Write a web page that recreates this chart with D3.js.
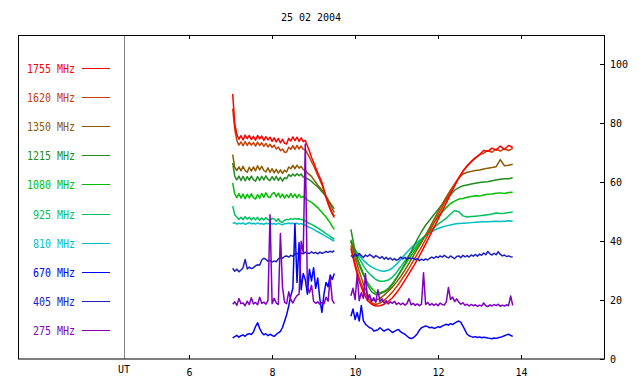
<!DOCTYPE html>
<html><head><meta charset="utf-8">
<script src="https://cdn.jsdelivr.net/npm/d3@7"></script>
<style>body{margin:0;background:#fff}svg{display:block}text{font-family:"DejaVu Sans Mono",monospace}</style>
</head><body><svg id="c" width="640" height="384"></svg>
<script>
const title = "25 02 2004";
const xTicks = [6, 8, 10, 12, 14];
const yTicks = [0, 20, 40, 60, 80, 100];
const names = ["1755 MHz","1620 MHz","1350 MHz","1215 MHz","1080 MHz","925 MHz","810 MHz","670 MHz","405 MHz","275 MHz"];
const colors = ["#ff0000","#c84000","#8c5a00","#228b22","#00c000","#00c060","#00c0c0","#0000ff","#2020c0","#8000c0"];

const T1 = [7.05,7.10,7.15,7.20,7.25,7.30,7.35,7.40,7.45,7.50,
7.55,7.60,7.65,7.70,7.75,7.80,7.85,7.90,7.95,8.00,
8.05,8.10,8.15,8.20,8.25,8.30,8.35,8.40,8.45,8.50,
8.55,8.60,8.65,8.70,8.75,8.80,8.85,8.90,8.95,9.00,
9.05,9.10,9.15,9.20,9.25,9.30,9.35,9.40,9.45,9.50];
const T2 = [9.9,10.0,10.1,10.2,10.3,10.4,10.5,10.6,10.7,10.8,
10.9,11.0,11.1,11.2,11.3,11.4,11.5,11.6,11.7,11.8,
11.9,12.0,12.1,12.2,12.3,12.4,12.5,12.6,12.7,12.8,
12.9,13.0,13.1,13.2,13.3,13.4,13.5,13.6,13.7,13.8];
const T2f = [9.90,9.95,10.00,10.05,10.10,10.15,10.20,10.25,10.30,10.35,
10.40,10.45,10.50,10.55,10.60,10.65,10.70,10.75,10.80,10.85,
10.90,10.95,11.00,11.05,11.10,11.15,11.20,11.25,11.30,11.35,
11.40,11.45,11.50,11.55,11.60,11.65,11.70,11.75,11.80,11.85,
11.90,11.95,12.00,12.05,12.10,12.15,12.20,12.25,12.30,12.35,
12.40,12.45,12.50,12.55,12.60,12.65,12.70,12.75,12.80,12.85,
12.90,12.95,13.00,13.05,13.10,13.15,13.20,13.25,13.30,13.35,
13.40,13.45,13.50,13.55,13.60,13.65,13.70,13.75,13.80];

const v1755a = [90,80,76.2,74.6,75.8,74.4,76.0,74.8,75.9,74.5,
75.6,74.3,75.9,74.7,75.7,74.2,75.5,74.4,75.3,73.9,
75.1,73.7,74.9,73.4,74.6,73.2,73.0,74.9,74.0,75.4,
74.1,75.3,73.9,75.1,73.8,74.2,72.4,70.6,68.4,66.8,
65.0,63.2,61.6,60.0,57.6,55.2,53.0,51.2,49.6,48.4];
const v1755b = [37.5,31.5,26.3,22.5,19.8,18.6,18.0,18.1,18.6,19.5,
20.8,22.5,24.5,26.7,29.0,31.3,33.7,36.3,39.0,41.8,
44.6,47.4,50.2,53.0,55.9,58.8,61.5,63.8,65.6,67.0,
68.3,69.4,70.8,70.5,71.6,70.9,72.3,71.2,72.5,71.8];
const v1620a = [85,78,74.2,72.6,73.7,72.4,73.8,72.5,73.6,72.6,
73.5,72.3,73.6,72.5,73.4,72.2,73.2,72.0,72.9,71.8,
72.6,71.3,72.0,70.7,71.3,70.2,70.3,71.9,71.2,72.4,
71.2,72.5,71.3,72.3,71.2,71.0,69.8,68.4,67.0,65.6,
64.0,62.4,60.8,59.2,57.0,54.8,52.6,50.8,49.2,48.0];
const v1620b = [38.5,32.5,27.5,23.5,20.8,19.1,18.5,19.0,19.9,21.2,
22.7,24.5,26.5,28.6,30.8,33.2,35.6,38.0,40.6,43.3,
46.2,48.9,51.5,54.2,56.8,59.2,61.6,63.7,65.4,67.0,
68.3,69.3,69.9,70.8,70.2,71.3,70.6,71.4,70.8,71.5];
const v1350a = [69.4,65.0,64.0,65.2,63.9,65.4,64.0,63.4,65.1,63.8,
65.2,63.9,65.6,64.2,65.4,64.0,63.5,64.9,63.4,64.6,
63.2,64.4,63.1,64.2,63.0,64.1,63.5,65.2,64.6,65.7,
64.6,65.8,64.8,65.4,64.3,64.0,63.2,62.6,62.0,61.0,
60.0,59.0,58.2,57.4,56.4,55.2,54.0,52.6,51.0,49.8];
const v1350b = [40.0,34.5,29.8,25.5,22.0,20.0,19.9,20.6,21.7,23.0,
24.4,26.1,28.0,30.2,32.5,34.9,37.3,39.6,42.1,44.7,
47.3,50.0,52.6,55.0,57.3,59.4,61.4,62.8,63.4,63.7,
64.0,64.2,64.5,64.8,65.0,65.3,67.7,65.6,65.8,66.1];
const v1215a = [66.6,62.0,60.8,62.1,60.6,62.0,60.5,61.9,60.7,62.1,
60.9,60.4,61.9,60.6,62.0,60.8,62.2,61.0,60.6,61.9,
60.7,62.0,60.6,61.7,60.4,61.6,61.2,62.6,62.0,62.8,
62.1,62.9,62.2,62.8,61.8,61.6,61.2,60.8,60.3,59.6,
59.0,58.4,57.6,56.8,56.0,55.0,54.0,53.0,52.0,51.0];
const v1215b = [44.0,36.5,32.5,29.0,25.2,22.8,21.9,22.1,22.7,23.6,
25.3,27.4,29.8,32.3,35.0,37.8,40.6,43.2,45.4,47.2,
49.0,50.8,52.5,54.1,55.8,57.3,58.2,58.8,59.1,59.4,
59.7,59.9,60.1,60.2,60.5,60.8,61.0,61.2,61.2,61.5];
const v1080a = [59.8,56.0,54.8,56.2,54.6,56.0,54.4,55.9,54.7,56.1,
54.8,54.3,55.8,54.6,56.2,54.9,56.4,55.1,54.8,56.1,
56.5,55.1,56.3,54.8,56.0,54.6,55.8,54.8,56.2,54.9,
56.0,54.7,55.9,54.8,55.2,54.6,54.0,53.6,53.2,52.6,
52.0,51.4,50.6,49.8,49.0,48.2,47.2,46.2,45.0,44.0];
const v1080b = [40.5,35.5,31.8,28.5,26.0,24.0,22.6,22.5,23.0,24.0,
25.6,27.6,29.7,31.9,34.0,36.1,38.2,40.1,42.0,44.1,
46.2,48.2,49.9,51.4,52.8,53.6,54.3,54.5,54.9,55.2,
55.4,55.3,55.7,55.9,56.0,56.3,56.4,56.2,56.5,56.6];
const v925a = [51.9,49.0,48.2,47.4,48.1,47.3,48.3,47.5,48.1,47.2,
48.0,47.3,48.1,47.1,47.9,47.2,48.0,47.3,47.0,47.8,
47.5,46.8,47.6,46.6,46.4,47.1,47.4,47.3,47.6,47.4,
47.7,47.5,47.6,47.3,47.4,46.8,46.4,46.0,45.7,45.3,
44.9,44.5,44.0,43.6,43.1,42.6,42.1,41.6,41.1,40.6];
const v925b = [40.0,37.0,34.2,31.6,29.6,28.2,27.0,26.4,26.4,26.8,
27.8,29.4,31.3,33.3,35.2,37.0,38.9,40.6,42.1,43.4,
44.6,45.8,46.8,47.8,49.2,50.4,50.0,48.6,48.2,48.4,
48.5,48.6,48.8,49.0,49.2,49.6,49.4,49.5,49.7,49.8];
const v810a = [46.0,46.3,45.8,46.1,45.9,46.2,45.7,46.0,46.3,45.9,
46.1,45.8,46.2,45.9,46.0,45.7,46.1,45.9,46.2,45.8,
46.0,45.7,46.1,45.8,45.6,45.9,46.0,46.2,45.9,46.1,
45.9,46.1,45.8,46.0,45.7,45.4,45.0,44.7,44.4,44.0,
43.6,43.2,42.8,42.4,42.0,41.6,41.2,40.8,40.4,40.0];
const v810b = [39.5,37.2,35.2,33.5,32.2,31.2,30.5,30.0,29.8,30.1,
30.9,32.2,33.8,35.5,37.0,38.4,39.6,40.8,41.9,42.9,
43.7,44.3,44.8,45.2,45.5,45.8,46.0,46.1,46.2,46.3,
46.4,46.5,46.6,46.6,46.7,46.8,46.7,46.8,46.9,46.8];
const v670a = [7.2,7.6,8.0,7.4,7.9,8.2,7.7,8.4,8.6,8.3,
9.2,11.0,12.3,10.4,9.0,8.2,8.6,7.9,8.4,8.0,
7.7,8.3,8.9,9.4,10.7,12.8,15.0,18.0,21.5,24.0,
46.0,26.0,39.5,23.5,29.0,27.0,22.0,30.5,26.5,31.0,
24.0,27.5,20.5,15.8,22.0,26.0,24.5,28.5,27.0,29.0];
const v670b = [14.5,17.0,13.4,15.8,12.9,18.2,13.0,11.8,11.2,10.6,
10.4,9.5,9.7,9.9,10.6,10.0,9.5,9.9,10.2,9.6,
9.0,9.4,9.8,10.0,9.2,8.8,8.4,7.8,7.2,6.9,
7.2,7.8,8.6,9.8,10.6,10.9,11.2,11.0,10.6,10.8,
10.4,10.6,11.0,10.7,11.2,11.5,11.8,11.5,12.0,11.7,
12.2,12.6,12.9,12.4,11.2,9.8,8.4,7.9,7.6,7.4,
7.6,7.3,7.5,7.2,7.4,7.3,7.1,7.0,6.9,7.1,
7.0,7.2,7.4,7.6,7.9,8.2,8.4,8.0,7.7];
const v405a = [30.8,29.8,30.5,29.6,30.2,31.0,33.8,30.6,31.2,30.7,
31.0,31.6,32.0,31.8,33.6,34.2,33.8,33.2,33.5,32.9,
33.3,33.0,34.0,34.5,34.2,34.8,35.0,34.6,35.2,34.9,
35.6,35.9,35.4,36.0,35.7,36.3,36.0,35.8,36.4,35.9,
36.2,35.7,36.3,35.9,36.1,36.5,36.2,36.6,36.3,36.8];
const v405b = [35.2,34.6,35.6,34.9,35.8,35.1,34.5,35.3,34.8,35.5,
35.0,34.4,35.1,34.7,34.2,34.8,33.9,34.5,33.8,34.3,
33.6,34.1,33.5,33.9,34.6,34.0,34.5,33.9,34.4,34.0,
34.3,33.7,34.1,33.4,33.9,33.5,34.0,33.6,34.2,34.6,
34.2,34.8,34.4,35.0,34.6,35.2,34.7,34.3,35.0,34.5,
34.1,34.8,35.0,34.4,35.2,34.7,35.1,34.6,35.3,34.9,
35.5,34.9,35.6,35.2,36.0,35.4,36.5,35.7,35.3,35.9,
35.4,36.4,35.5,35.0,35.3,34.8,35.0,34.7,34.6];
const v275a = [18.6,19.4,18.2,20.5,18.8,19.0,18.1,19.6,18.5,20.8,
18.7,19.2,18.4,21.0,18.9,19.3,18.6,19.8,49.0,18.8,
20.6,19.0,18.5,42.6,24.5,19.2,18.8,22.8,20.2,19.0,
20.5,21.5,22.0,40.0,36.0,73.0,24.5,22.5,25.0,19.6,
18.9,19.4,18.6,19.2,18.7,21.0,19.6,27.7,20.0,18.8];
const v275b = [21.5,24.0,20.2,28.7,19.8,22.5,20.6,29.0,20.0,21.8,
19.6,20.8,19.2,23.5,19.5,20.4,19.0,19.8,18.7,19.4,
18.9,19.6,18.5,19.1,18.4,19.0,18.3,18.8,20.5,18.4,
18.9,18.2,18.7,18.1,18.6,29.3,18.5,19.2,18.3,18.8,
18.2,18.7,18.1,19.0,18.5,18.3,19.4,24.3,20.2,21.0,
19.5,20.4,19.3,18.6,19.1,18.2,18.6,18.0,18.5,18.1,
18.4,17.9,18.3,18.0,19.0,18.1,17.8,18.4,18.0,18.5,
18.1,18.6,17.9,18.3,18.0,18.4,18.1,21.4,18.2];

const series = [
  {i:0, a:v1755a, b:v1755b, tb:T2},
  {i:1, a:v1620a, b:v1620b, tb:T2},
  {i:2, a:v1350a, b:v1350b, tb:T2},
  {i:3, a:v1215a, b:v1215b, tb:T2},
  {i:4, a:v1080a, b:v1080b, tb:T2},
  {i:5, a:v925a, b:v925b, tb:T2},
  {i:6, a:v810a, b:v810b, tb:T2},
  {i:7, a:v670a, b:v670b, tb:T2f},
  {i:8, a:v405a, b:v405b, tb:T2f},
  {i:9, a:v275a, b:v275b, tb:T2f}
];
const drawOrder = [6,5,4,3,2,1,0,8,7,9];

const svg = d3.select("#c");
const x = d3.scaleLinear().domain([1.875, 16]).range([18, 604]);
const y = d3.scaleLinear().domain([0, 110]).range([359, 35]);
const FONT = '"DejaVu Sans Mono", monospace';

svg.append("text").attr("x", 311).attr("y", 21).attr("text-anchor", "middle")
  .attr("font-size", 10).attr("fill", "#000").text(title);

svg.append("line").attr("x1", Math.round(x(4.43)) + 0.5).attr("x2", Math.round(x(4.43)) + 0.5)
  .attr("y1", 35).attr("y2", 359).attr("stroke", "#808080").attr("stroke-width", 1);
svg.append("text").attr("x", x(4.43)).attr("y", 373).attr("text-anchor", "middle")
  .attr("font-size", 10).attr("fill", "#000").text("UT");

const gb = svg.append("g").attr("transform", "translate(0,359)")
  .call(d3.axisBottom(x).tickValues(xTicks).tickSizeInner(-4).tickSizeOuter(0).tickPadding(10));
const gt = svg.append("g").attr("transform", "translate(0,35)")
  .call(d3.axisTop(x).tickValues(xTicks).tickSizeInner(-4).tickSizeOuter(0).tickFormat(""));
const gr = svg.append("g").attr("transform", "translate(604,0)")
  .call(d3.axisRight(y).tickValues(yTicks).tickSizeInner(-4).tickSizeOuter(0).tickPadding(6));
[gb, gt, gr].forEach(g => {
  g.attr("font-family", FONT).attr("font-size", 10);
  g.select(".domain").remove();
  g.selectAll(".tick line").attr("stroke", "#000").attr("shape-rendering", "crispEdges");
  g.selectAll(".tick text").attr("fill", "#000");
});

svg.append("rect").attr("x", 18.5).attr("y", 35.5).attr("width", 586).attr("height", 323.5)
  .attr("fill", "none").attr("stroke", "#000").attr("stroke-width", 1);

names.forEach((n, k) => {
  const ly = 67.5 + 29.2 * k;
  svg.append("line").attr("x1", 82).attr("x2", 110).attr("y1", Math.round(ly) + 0.5).attr("y2", Math.round(ly) + 0.5)
    .attr("stroke", colors[k]).attr("stroke-width", 1);
  svg.append("text").attr("x", 75).attr("y", Math.round(ly) + 5).attr("text-anchor", "end")
    .attr("font-size", 12).attr("textLength", n.length * 6).attr("lengthAdjust", "spacingAndGlyphs")
    .attr("fill", colors[k]).text(n);
});

const line = d3.line().x(d => x(d[0])).y(d => y(d[1]));
const plot = svg.append("g");
drawOrder.forEach(k => {
  const s = series[k];
  const segA = T1.map((t, j) => [t, s.a[j]]);
  const segB = s.tb.map((t, j) => [t, s.b[j]]);
  [segA, segB].forEach(seg => {
    plot.append("path").datum(seg).attr("d", line)
      .attr("fill", "none").attr("stroke", colors[s.i]).attr("stroke-width", 1.5)
      .attr("stroke-linejoin", "round");
  });
});
</script></body></html>
